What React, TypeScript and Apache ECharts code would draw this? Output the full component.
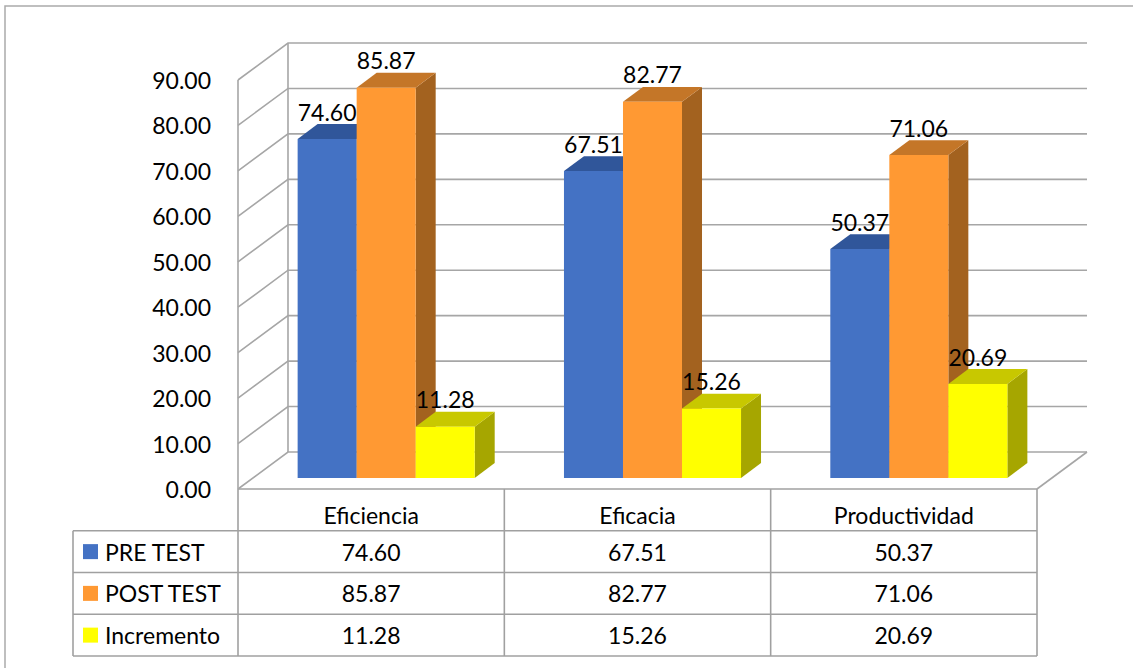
import React, { useEffect, useRef } from 'react';
import * as echarts from 'echarts';

const categories = ['Eficiencia', 'Eficacia', 'Productividad'];
const seriesNames = ['PRE TEST', 'POST TEST', 'Incremento'];
const preTest = [74.6, 67.51, 50.37];
const postTest = [85.87, 82.77, 71.06];
const incremento = [11.28, 15.26, 20.69];
const yTicks = [0, 10, 20, 30, 40, 50, 60, 70, 80, 90];

const W = 1133;
const H = 668;
const GRID = { left: 238, right: 96, top: 80, bottom: 179 };
const DEPTH: [number, number] = [50, -37];
const BAR_FRONT = 0.3;
const BAR_DEPTH = 0.4;
const BAR_RATIO = 0.2216;
const FONT = 'Lato, "Open Sans", sans-serif';
const FS = 23;
const GRID_COLOR = '#A6A6A6';
const TABLE_COLOR = '#A0A0A0';

const palettes = [
  { front: '#4472C4', top: '#30569A', side: '#2A4C8A' },
  { front: '#FF9933', top: '#C47628', side: '#A3621F' },
  { front: '#FFFF00', top: '#C8C800', side: '#A6A600' },
];

const allSeries = [preTest, postTest, incremento];

export default function App() {
  const ref = useRef<HTMLDivElement>(null);
  useEffect(() => {
    if (!ref.current) return;
    const chart = echarts.init(ref.current, null, { renderer: 'svg' });

    const dx = DEPTH[0];
    const dy = DEPTH[1];

    const gridSeries: any = {
      type: 'custom',
      z: 1,
      silent: true,
      data: yTicks.map((v) => [0, v]),
      encode: { x: 0, y: 1 },
      renderItem: (params: any, api: any) => {
        const v = api.value(1);
        const cs = params.coordSys;
        const y = api.coord([0, v])[1];
        const xl = cs.x;
        const xr = cs.x + cs.width;
        const st = { stroke: GRID_COLOR, lineWidth: 1.6, fill: 'none' };
        const children: any[] = [
          {
            type: 'polyline',
            shape: { points: [[xl, y], [xl + dx, y + dy], [xr + dx, y + dy]] },
            style: st,
          },
        ];
        if (v === 0) {
          const yTop = api.coord([0, yTicks[yTicks.length - 1]])[1];
          children.push({
            type: 'polyline',
            shape: { points: [[xr, y], [xr + dx, y + dy]] },
            style: st,
          });
          children.push({
            type: 'line',
            shape: { x1: xl, y1: y, x2: xl, y2: yTop },
            style: st,
          });
          children.push({
            type: 'line',
            shape: { x1: xl + dx, y1: y + dy, x2: xl + dx, y2: yTop + dy },
            style: st,
          });
        }
        return { type: 'group', children };
      },
    };

    const barGeom = (api: any, s: number, ci: number, v: number) => {
      const bw = api.size([1, 0])[0];
      const barW = bw * BAR_RATIO;
      const cx = api.coord([ci, 0])[0];
      const y0 = api.coord([ci, 0])[1];
      const yv = api.coord([ci, v])[1];
      const fx = cx + (s - 1.5) * barW + BAR_FRONT * dx;
      const fyb = y0 + BAR_FRONT * dy;
      const fyt = yv + BAR_FRONT * dy;
      const ox = BAR_DEPTH * dx;
      const oy = BAR_DEPTH * dy;
      return { fx, fyb, fyt, barW, ox, oy };
    };

    const barSeries: any[] = allSeries.map((vals, s) => ({
      type: 'custom',
      name: seriesNames[s],
      z: 3 + s,
      data: vals.map((v, i) => [i, v]),
      encode: { x: 0, y: 1 },
      renderItem: (params: any, api: any) => {
        const ci = api.value(0);
        const v = api.value(1);
        const g = barGeom(api, s, ci, v);
        const p = palettes[s];
        const { fx, fyb, fyt, barW, ox, oy } = g;
        return {
          type: 'group',
          children: [
            {
              type: 'polygon',
              shape: {
                points: [
                  [fx + barW, fyt],
                  [fx + barW + ox, fyt + oy],
                  [fx + barW + ox, fyb + oy],
                  [fx + barW, fyb],
                ],
              },
              style: { fill: p.side },
            },
            {
              type: 'polygon',
              shape: {
                points: [
                  [fx, fyt],
                  [fx + ox, fyt + oy],
                  [fx + barW + ox, fyt + oy],
                  [fx + barW, fyt],
                ],
              },
              style: { fill: p.top },
            },
            {
              type: 'rect',
              shape: { x: fx, y: fyt, width: barW, height: fyb - fyt },
              style: { fill: p.front },
            },
          ],
        };
      },
    }));

    const labelData: any[] = [];
    allSeries.forEach((vals, s) => vals.forEach((v, i) => labelData.push([i, v, s])));
    const labelSeries: any = {
      type: 'custom',
      z: 10,
      silent: true,
      data: labelData,
      encode: { x: 0, y: 1 },
      renderItem: (params: any, api: any) => {
        const ci = api.value(0);
        const v = api.value(1);
        const s = api.value(2);
        const g = barGeom(api, s, ci, v);
        return {
          type: 'text',
          style: {
            text: v.toFixed(2),
            x: g.fx + g.barW / 2,
            y: g.fyt + g.oy - 1,
            align: 'center',
            verticalAlign: 'bottom',
            fill: '#000',
            fontSize: FS,
            fontFamily: FONT,
          },
        };
      },
    };

    // table graphics
    const tableTop = H - GRID.bottom;
    const rowH = 41.75;
    const legendLeft = 73;
    const xl = GRID.left;
    const xr = W - GRID.right;
    const colW = (xr - xl) / categories.length;
    const tableBottom = tableTop + rowH * 4;
    const lineStyle = { stroke: TABLE_COLOR, lineWidth: 1.6 };
    const g: any[] = [];
    g.push({
      type: 'rect',
      shape: { x: 5, y: 6, width: 1300, height: 900 },
      style: { fill: 'none', stroke: '#ABABAB', lineWidth: 1.5 },
      silent: true,
    });
    // horizontal lines
    g.push({ type: 'line', shape: { x1: xl, y1: tableTop, x2: xr, y2: tableTop }, style: lineStyle });
    for (let r = 1; r <= 4; r++) {
      const y = tableTop + rowH * r;
      g.push({ type: 'line', shape: { x1: legendLeft, y1: y, x2: xr, y2: y }, style: lineStyle });
    }
    // vertical lines
    g.push({ type: 'line', shape: { x1: legendLeft, y1: tableTop + rowH, x2: legendLeft, y2: tableBottom }, style: lineStyle });
    for (let c = 0; c <= categories.length; c++) {
      const x = xl + colW * c;
      g.push({ type: 'line', shape: { x1: x, y1: tableTop, x2: x, y2: tableBottom }, style: lineStyle });
    }
    // headers
    categories.forEach((cat, c) => {
      g.push({
        type: 'text',
        style: {
          text: cat,
          x: xl + colW * (c + 0.5),
          y: tableTop + rowH / 2 + 5,
          align: 'center',
          verticalAlign: 'middle',
          fill: '#000',
          fontSize: FS,
          fontFamily: FONT,
        },
      });
    });
    // rows
    allSeries.forEach((vals, s) => {
      const cy = tableTop + rowH * (s + 1.5);
      g.push({
        type: 'rect',
        shape: { x: 83, y: cy - 7.5, width: 15, height: 15 },
        style: { fill: palettes[s].front },
      });
      g.push({
        type: 'text',
        style: {
          text: seriesNames[s],
          x: 105,
          y: cy,
          align: 'left',
          verticalAlign: 'middle',
          fill: '#000',
          fontSize: FS,
          fontFamily: FONT,
        },
      });
      vals.forEach((v, c) => {
        g.push({
          type: 'text',
          style: {
            text: v.toFixed(2),
            x: xl + colW * (c + 0.5),
            y: cy,
            align: 'center',
            verticalAlign: 'middle',
            fill: '#000',
            fontSize: FS,
            fontFamily: FONT,
          },
        });
      });
    });

    chart.setOption({
      animation: false,
      backgroundColor: '#fff',
      grid: { ...GRID },
      xAxis: {
        type: 'category',
        data: categories,
        axisLine: { show: false },
        axisTick: { show: false },
        axisLabel: { show: false },
        splitLine: { show: false },
      },
      yAxis: {
        type: 'value',
        min: 0,
        max: 90,
        interval: 10,
        axisLine: { show: false },
        axisTick: { show: false },
        splitLine: { show: false },
        axisLabel: {
          formatter: (v: number) => v.toFixed(2),
          color: '#000',
          fontSize: FS,
          fontFamily: FONT,
          margin: 27,
        },
      },
      graphic: g,
      series: [gridSeries, ...barSeries, labelSeries],
    });

    return () => chart.dispose();
  }, []);

  return (
    <div
      ref={ref}
      style={{ position: 'fixed', left: 0, top: 0, width: W, height: H, background: '#fff' }}
    />
  );
}
